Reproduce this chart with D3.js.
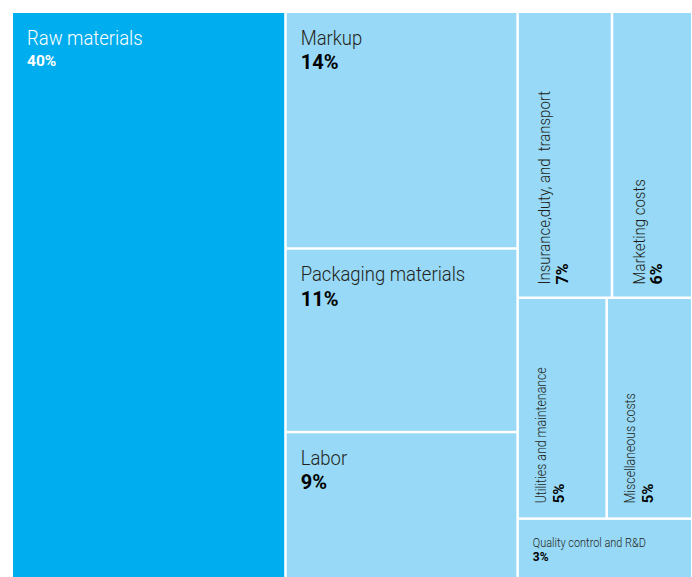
<!DOCTYPE html>
<html>
<head>
<meta charset="utf-8">
<script src="https://cdn.jsdelivr.net/npm/d3@7"></script>
<style>
  html, body { margin: 0; padding: 0; background: #ffffff; }
  svg { display: block; }
  text { white-space: pre; }
</style>
</head>
<body>
<svg id="chart" width="692" height="577"></svg>
<script>
// ---- data (shares in %; labels show rounded values) ----
const categories = ["Raw materials", "Markup", "Packaging materials", "Labor",
  "Insurance,duty, and  transport", "Marketing costs",
  "Utilities and maintenance", "Miscellaneous costs", "Quality control and R&D"];
const values = [40.2, 14.25, 11.05, 8.8, 7.0, 5.95, 5.1, 4.9, 2.7];
const parents = ["root", "g2", "g2", "g2", "g3a", "g3a", "g3b", "g3b", "g3"];
const groupIds = ["root", "g2", "g3", "g3a", "g3b"];
const groupParents = [null, "root", "root", "g3", "g3"];

// ---- build hierarchy ----
const rows = [];
groupIds.forEach((id, i) => rows.push({ id, parent: groupParents[i] }));
categories.forEach((c, i) => rows.push({ id: c, parent: parents[i], name: c, value: values[i] }));
const order = ["root", "Raw materials", "g2", "Markup", "Packaging materials", "Labor",
  "g3", "g3a", "Insurance,duty, and  transport", "Marketing costs",
  "g3b", "Utilities and maintenance", "Miscellaneous costs", "Quality control and R&D"];
rows.sort((a, b) => order.indexOf(a.id) - order.indexOf(b.id));

const root = d3.stratify().id(d => d.id).parentId(d => d.parent)(rows)
  .sum(d => d.value || 0);

d3.treemap()
  .tile(d3.treemapSliceDice)
  .size([678, 564])
  .paddingInner(2.5)
  (root);

const svg = d3.select("#chart");
const g = svg.append("g").attr("transform", "translate(13,13)");

const dark = "#00ADEE", light = "#97D9F6";
const leaves = root.leaves();

const cell = g.selectAll("g.cell").data(leaves).join("g").attr("class", "cell");
cell.append("rect")
  .attr("x", d => d.x0).attr("y", d => d.y0)
  .attr("width", d => d.x1 - d.x0).attr("height", d => d.y1 - d.y0)
  .attr("fill", d => d.data.value >= 40 ? dark : light);

const font = "Roboto, 'DejaVu Sans', sans-serif";
const squeeze = 0.88;
cell.each(function(d) {
  const sel = d3.select(this);
  const w = d.x1 - d.x0, h = d.y1 - d.y0;
  const v = d.data.value;
  const isDark = v >= 40;
  const nameColor = isDark ? "#ffffff" : "#231F20";
  const pctColor = isDark ? "#ffffff" : "#000000";
  const pct = Math.round(v) + "%";
  if (w < 100 && h > w) {
    // vertical labels
    const big = v >= 5.5;
    const nameSize = big ? 17 : 14;
    const pctSize = big ? 16 : 15;
    const nx = d.x0 + (big ? 31.5 : 27.5);
    const px = d.x0 + (big ? 49 : 45.5);
    const sy = d.y1 - (big ? 12 : 14);
    sel.append("text")
      .attr("transform", `translate(${nx},${sy}) rotate(-90) scale(${squeeze},1)`)
      .attr("font-family", font).attr("font-weight", 300)
      .attr("font-size", nameSize).attr("fill", nameColor)
      .text(d.data.name);
    sel.append("text")
      .attr("transform", `translate(${px},${sy}) rotate(-90)`)
      .attr("font-family", font).attr("font-weight", 700)
      .attr("font-size", pctSize).attr("fill", pctColor)
      .text(pct);
  } else if (h < 80) {
    sel.append("text")
      .attr("transform", `translate(${d.x0 + 14},${d.y0 + 27}) scale(0.84,1)`)
      .attr("font-family", font).attr("font-weight", 300)
      .attr("font-size", 13).attr("fill", nameColor)
      .text(d.data.name);
    sel.append("text")
      .attr("x", d.x0 + 14).attr("y", d.y0 + 41)
      .attr("font-family", font).attr("font-weight", 700)
      .attr("font-size", 12).attr("fill", pctColor)
      .text(pct);
  } else {
    sel.append("text")
      .attr("transform", `translate(${d.x0 + 14},${d.y0 + 31.5}) scale(${squeeze},1)`)
      .attr("font-family", font).attr("font-weight", 300)
      .attr("font-size", 21).attr("fill", nameColor)
      .text(d.data.name);
    sel.append("text")
      .attr("x", d.x0 + 14).attr("y", d.y0 + (isDark ? 53 : 56))
      .attr("font-family", font).attr("font-weight", 700)
      .attr("font-size", isDark ? 15.5 : 20).attr("fill", pctColor)
      .text(pct);
  }
});
</script>
</body>
</html>
